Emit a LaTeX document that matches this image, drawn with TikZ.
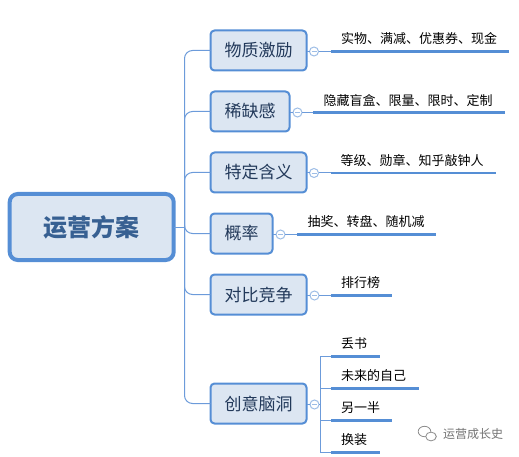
\documentclass[tikz,border=0pt]{standalone}
\usepackage{fontspec}
\setmainfont{Noto Sans CJK SC}
\usetikzlibrary{calc}
\definecolor{edgeblue}{HTML}{558ED5}
\definecolor{fillblue}{HTML}{DCE6F2}
\definecolor{thinblue}{HTML}{6C9BDA}
\definecolor{softblue}{HTML}{9DBDE6}
\definecolor{rootink}{HTML}{376092}
\definecolor{branchink}{HTML}{22395A}
\tikzset{
  x=1pt,y=-1pt,
  rootbox/.style={draw=edgeblue,fill=fillblue,line width=4pt,rounded corners=8pt,minimum width=164pt,minimum height=66pt,outer sep=0pt,inner sep=0pt,text=rootink,font=\fontsize{24}{28}\selectfont\bfseries},
  branchbox/.style={draw=edgeblue,fill=fillblue,line width=2pt,rounded corners=4pt,minimum height=40pt,outer sep=0pt,inner sep=0pt,text=branchink,font=\fontsize{17}{20}\selectfont},
  leaftext/.style={inner sep=0pt,outer sep=0pt,text=black,font=\fontsize{13}{16}\selectfont},
  underbar/.style={draw=edgeblue,line width=2.6pt},
  conn/.style={draw=thinblue,line width=1pt},
  softconn/.style={draw=softblue,line width=1pt},
  collapser/.style={circle,draw=softblue,fill=white,line width=1pt,minimum size=9pt,inner sep=0pt,outer sep=0pt,
    path picture={\draw[draw=softblue,line width=.8pt] ($(path picture bounding box.center)+(-2.5,0)$) -- ($(path picture bounding box.center)+(2.5,0)$);}},
  wm/.style={inner sep=0pt,outer sep=0pt,text=black!55,font=\fontsize{12}{14}\selectfont},
}
\begin{document}
\begin{tikzpicture}
\useasboundingbox (0,0) rectangle (519,457);
% nodes
\node[rootbox] (root) at (91.7,227) {运营方案};
\node[branchbox,minimum width=96pt] (b1) at (258.5,50.5) {物质激励};
\node[branchbox,minimum width=79pt] (b2) at (250,111.5) {稀缺感};
\node[branchbox,minimum width=96pt] (b3) at (258.5,172.5) {特定含义};
\node[branchbox,minimum width=62pt] (b4) at (241.5,233.5) {概率};
\node[branchbox,minimum width=96pt] (b5) at (258.5,294.5) {对比竞争};
\node[branchbox,minimum width=96pt] (b6) at (258.5,403.5) {创意脑洞};
% spine
\coordinate (spine) at (184.5,227);
\draw[conn] (root.east) -- (spine);
\foreach \b in {b1,b2,b3,b4,b5,b6}{
  \draw[conn,rounded corners=8pt] (spine) |- (\b.west);
}
% collapse circles
\node[collapser] (c1) at (314,51.5) {};
\node[collapser] (c2) at (297.5,112.5) {};
\node[collapser] (c3) at (314,173) {};
\node[collapser] (c4) at (280.5,234.5) {};
\node[collapser] (c5) at (314.5,295.5) {};
\node[collapser] (c6) at (314.5,404.5) {};
\foreach \i in {1,...,6}{ \draw[conn] (b\i.east |- c\i) -- (c\i.west); }
% leaves
\node[leaftext] (t1) at (419,38.5) {实物、满减、优惠券、现金};
\node[leaftext] (t2) at (408,100.5) {隐藏盲盒、限量、限时、定制};
\node[leaftext] (t3) at (412,160.5) {等级、勋章、知乎敲钟人};
\node[leaftext] (t4) at (366,221.5) {抽奖、转盘、随机减};
\node[leaftext,anchor=west] (t5) at (341,282.5) {排行榜};
\node[leaftext,anchor=west] (t6) at (341,343.5) {丢书};
\node[leaftext,anchor=west] (t7) at (341,375.5) {未来的自己};
\node[leaftext,anchor=west] (t8) at (341,407.5) {另一半};
\node[leaftext,anchor=west] (t9) at (341,439.5) {换装};
% underline ends
\coordinate (u1a) at (331,51.5);  \coordinate (u1b) at (509,51.5);
\coordinate (u2a) at (313,112.5); \coordinate (u2b) at (505,112.5);
\coordinate (u3a) at (331,173);   \coordinate (u3b) at (496,173);
\coordinate (u4a) at (297,234.5); \coordinate (u4b) at (436,234.5);
\coordinate (u5a) at (331,295.5); \coordinate (u5b) at (392,295.5);
\coordinate (u6a) at (331,356.5); \coordinate (u6b) at (379.5,356.5);
\coordinate (u7a) at (331,388.5); \coordinate (u7b) at (418.5,388.5);
\coordinate (u8a) at (331,420.5); \coordinate (u8b) at (392,420.5);
\coordinate (u9a) at (331,452.5); \coordinate (u9b) at (379.5,452.5);
\foreach \i in {1,...,9}{ \draw[underbar] (u\i a) -- (u\i b); }
\foreach \i in {1,...,5}{ \draw[conn] (c\i.east) -- (u\i a); }
% creative trunk
\coordinate (trunk) at (320.5,404.5);
\draw[conn] (c6.east) -- (trunk);
\draw[conn] (u6a) -| (trunk);
\draw[conn] (u9a) -| (trunk);
\draw[conn] (u7a) -| (trunk);
\draw[conn] (u8a) -| (trunk);
% watermark
\draw[black!45,line width=.8pt,fill=white] (424.5,431.5) ellipse (6.3pt and 5.2pt);
\draw[black!45,line width=.8pt,fill=white] (431,436.5) ellipse (5.3pt and 4.4pt);
\node[wm,anchor=west] (wmtext) at (443,434) {运营成长史};
\end{tikzpicture}
\end{document}
